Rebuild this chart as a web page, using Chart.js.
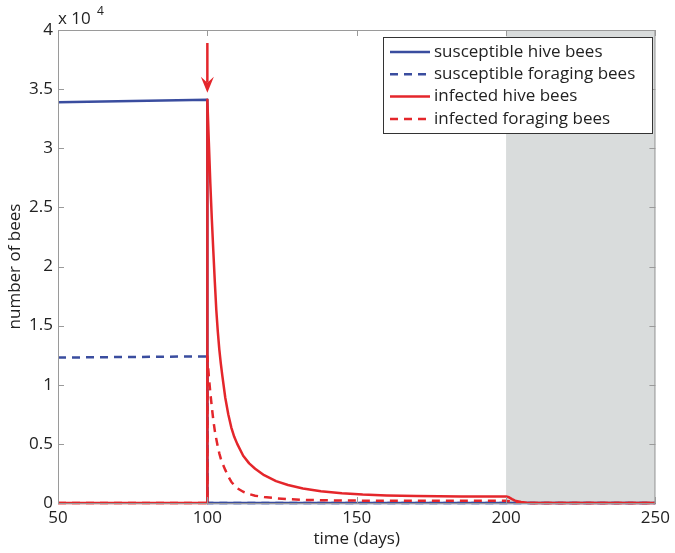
<!DOCTYPE html>
<html>
<head>
<meta charset="utf-8">
<script src="https://cdn.jsdelivr.net/npm/chart.js@4"></script>
<style>
  html, body { margin: 0; padding: 0; background: #fff; }
  #wrap { width: 675px; height: 553px; }
</style>
</head>
<body>
<div id="wrap"><canvas id="lineChart" width="675" height="553"></canvas></div>
<script>
// time points (days); 100 appears twice for the jump at infection
const time = [50, 75, 100, 100, 100.5, 101, 101.5, 102, 102.5, 103, 103.5, 104, 104.5, 105, 106, 107, 108, 109, 110, 112, 114, 116, 119, 123, 127, 132, 138, 145, 152, 160, 170, 185, 200, 201, 202, 203, 205, 207, 210, 250];

const susHive = [33900, 34000, 34100, 0, 0, 0, 0, 0, 0, 0, 0, 0, 0, 0, 0, 0, 0, 0, 0, 0, 0, 0, 0, 0, 0, 0, 0, 0, 0, 0, 0, 0, 0, 0, 0, 0, 0, 0, 0, 0];
const susForaging = [12300, 12350, 12400, 0, 0, 0, 0, 0, 0, 0, 0, 0, 0, 0, 0, 0, 0, 0, 0, 0, 0, 0, 0, 0, 0, 0, 0, 0, 0, 0, 0, 0, 0, 0, 0, 0, 0, 0, 0, 0];
const infHive = [0, 0, 0, 34100, 30500, 27000, 24000, 21300, 18700, 16300, 14500, 13000, 11800, 10800, 8900, 7500, 6400, 5600, 5000, 4000, 3350, 2900, 2350, 1850, 1520, 1230, 1000, 830, 720, 640, 590, 560, 545, 480, 330, 200, 80, 25, 0, 0];
const infForaging = [0, 0, 0, 12400, 10700, 9300, 8100, 7000, 6100, 5400, 4750, 4200, 3750, 3400, 2800, 2250, 1800, 1500, 1250, 950, 750, 620, 500, 400, 330, 270, 230, 210, 200, 190, 185, 180, 180, 140, 90, 55, 25, 10, 0, 0];

const xTicks = [50, 100, 150, 200, 250];
const yTicks = [0, 5000, 10000, 15000, 20000, 25000, 30000, 35000, 40000];

const shadeFrom = 200, shadeTo = 250;
const arrowX = 100, arrowTop = 38900, arrowTip = 34700;

const blue = "#3a4d9f";
const red = "#e4262b";
const axisGray = "#9a9a9a";
const fontName = "'Open Sans', 'DejaVu Sans', sans-serif";

function pts(ys) {
  return time.map((t, i) => ({ x: t, y: ys[i] }));
}

const shadePlugin = {
  id: "shade",
  beforeDatasetsDraw(chart) {
    const { ctx, chartArea, scales } = chart;
    const x0 = scales.x.getPixelForValue(shadeFrom);
    const x1 = scales.x.getPixelForValue(shadeTo);
    ctx.save();
    ctx.fillStyle = "#d9dcdc";
    ctx.fillRect(x0, chartArea.top, x1 - x0, chartArea.bottom - chartArea.top);
    ctx.restore();
  },
  afterDatasetsDraw(chart) {
    const { ctx, chartArea, scales } = chart;
    ctx.save();
    // box + inward ticks, matlab style
    ctx.strokeStyle = axisGray;
    ctx.lineWidth = 1;
    ctx.strokeRect(chartArea.left + 0.5, chartArea.top + 0.5, chartArea.right - chartArea.left - 1, chartArea.bottom - chartArea.top);
    ctx.beginPath();
    xTicks.forEach((v) => {
      const px = Math.round(scales.x.getPixelForValue(v)) + 0.5;
      ctx.moveTo(px, chartArea.bottom); ctx.lineTo(px, chartArea.bottom - 6);
      ctx.moveTo(px, chartArea.top); ctx.lineTo(px, chartArea.top + 6);
    });
    yTicks.forEach((v) => {
      const py = Math.round(scales.y.getPixelForValue(v)) + 0.5;
      ctx.moveTo(chartArea.left, py); ctx.lineTo(chartArea.left + 6, py);
      ctx.moveTo(chartArea.right, py); ctx.lineTo(chartArea.right - 6, py);
    });
    ctx.stroke();

    // arrow marking the infection
    const ax = scales.x.getPixelForValue(arrowX);
    const ay0 = scales.y.getPixelForValue(arrowTop);
    const ay1 = scales.y.getPixelForValue(arrowTip);
    ctx.strokeStyle = red;
    ctx.fillStyle = red;
    ctx.lineWidth = 2.5;
    ctx.beginPath();
    ctx.moveTo(ax, ay0);
    ctx.lineTo(ax, ay1 - 10);
    ctx.stroke();
    ctx.beginPath();
    ctx.moveTo(ax - 6.5, ay1 - 16);
    ctx.lineTo(ax, ay1 - 10);
    ctx.lineTo(ax + 6.5, ay1 - 16);
    ctx.lineTo(ax, ay1);
    ctx.closePath();
    ctx.fill();

    // exponent label
    ctx.fillStyle = "#222";
    ctx.font = "17px " + fontName;
    ctx.textBaseline = "alphabetic";
    ctx.fillText("x 10", chartArea.left, chartArea.top - 6);
    ctx.font = "12px " + fontName;
    ctx.fillText("4", chartArea.left + 39, chartArea.top - 15);

    // legend box
    const lx = 383, ly = 37, lw = 269, lh = 96;
    ctx.fillStyle = "#fff";
    ctx.fillRect(lx, ly, lw, lh);
    ctx.strokeStyle = "#333";
    ctx.lineWidth = 1;
    ctx.strokeRect(lx + 0.5, ly + 0.5, lw, lh);
    ctx.font = "17px " + fontName;
    ctx.textBaseline = "middle";
    chart.data.datasets.forEach((ds, i) => {
      const y = ly + 15 + i * 22.3;
      ctx.strokeStyle = ds.borderColor;
      ctx.lineWidth = 2.5;
      ctx.setLineDash(ds.borderDash || []);
      ctx.beginPath();
      ctx.moveTo(lx + 7, y);
      ctx.lineTo(lx + 47, y);
      ctx.stroke();
      ctx.setLineDash([]);
      ctx.fillStyle = "#222";
      ctx.fillText(ds.label, lx + 51, y);
    });
    ctx.restore();
  }
};

const ctx = document.getElementById("lineChart").getContext("2d");
new Chart(ctx, {
  type: "line",
  data: {
    datasets: [
      { label: "susceptible hive bees", data: pts(susHive), borderColor: blue, borderWidth: 2.5, order: 2 },
      { label: "susceptible foraging bees", data: pts(susForaging), borderColor: blue, borderWidth: 2.5, borderDash: [8, 6], order: 2 },
      { label: "infected hive bees", data: pts(infHive), borderColor: red, borderWidth: 2.5, order: 1 },
      { label: "infected foraging bees", data: pts(infForaging), borderColor: red, borderWidth: 2.5, borderDash: [8, 6], order: 1 }
    ]
  },
  options: {
    responsive: false,
    animation: false,
    devicePixelRatio: 1,
    layout: { padding: { top: 30, right: 17, left: 0, bottom: 0 } },
    elements: { point: { radius: 0 }, line: { tension: 0, borderCapStyle: "butt", borderJoinStyle: "round" } },
    datasets: { line: { clip: false } },
    plugins: { legend: { display: false }, tooltip: { enabled: false } },
    scales: {
      x: {
        type: "linear",
        min: 50,
        max: 250,
        afterBuildTicks: (s) => { s.ticks = xTicks.map((v) => ({ value: v })); },
        afterFit: (s) => { s.height = 50; },
        grid: { display: false, drawTicks: false },
        border: { color: axisGray },
        ticks: { padding: 5, color: "#222", font: { family: fontName, size: 17 } },
        title: { display: true, text: "time (days)", color: "#222", padding: { top: 0, bottom: 4 }, font: { family: fontName, size: 17 } }
      },
      y: {
        type: "linear",
        min: 0,
        max: 40000,
        afterBuildTicks: (s) => { s.ticks = yTicks.map((v) => ({ value: v })); },
        afterFit: (s) => { s.width = 58; },
        grid: { display: false, drawTicks: false },
        border: { color: axisGray },
        ticks: { padding: 5, color: "#222", font: { family: fontName, size: 17 }, callback: (v) => String(v / 10000) },
        title: { display: true, text: "number of bees", color: "#222", padding: { top: 5, bottom: 0 }, font: { family: fontName, size: 17 } }
      }
    }
  },
  plugins: [shadePlugin]
});
</script>
</body>
</html>
